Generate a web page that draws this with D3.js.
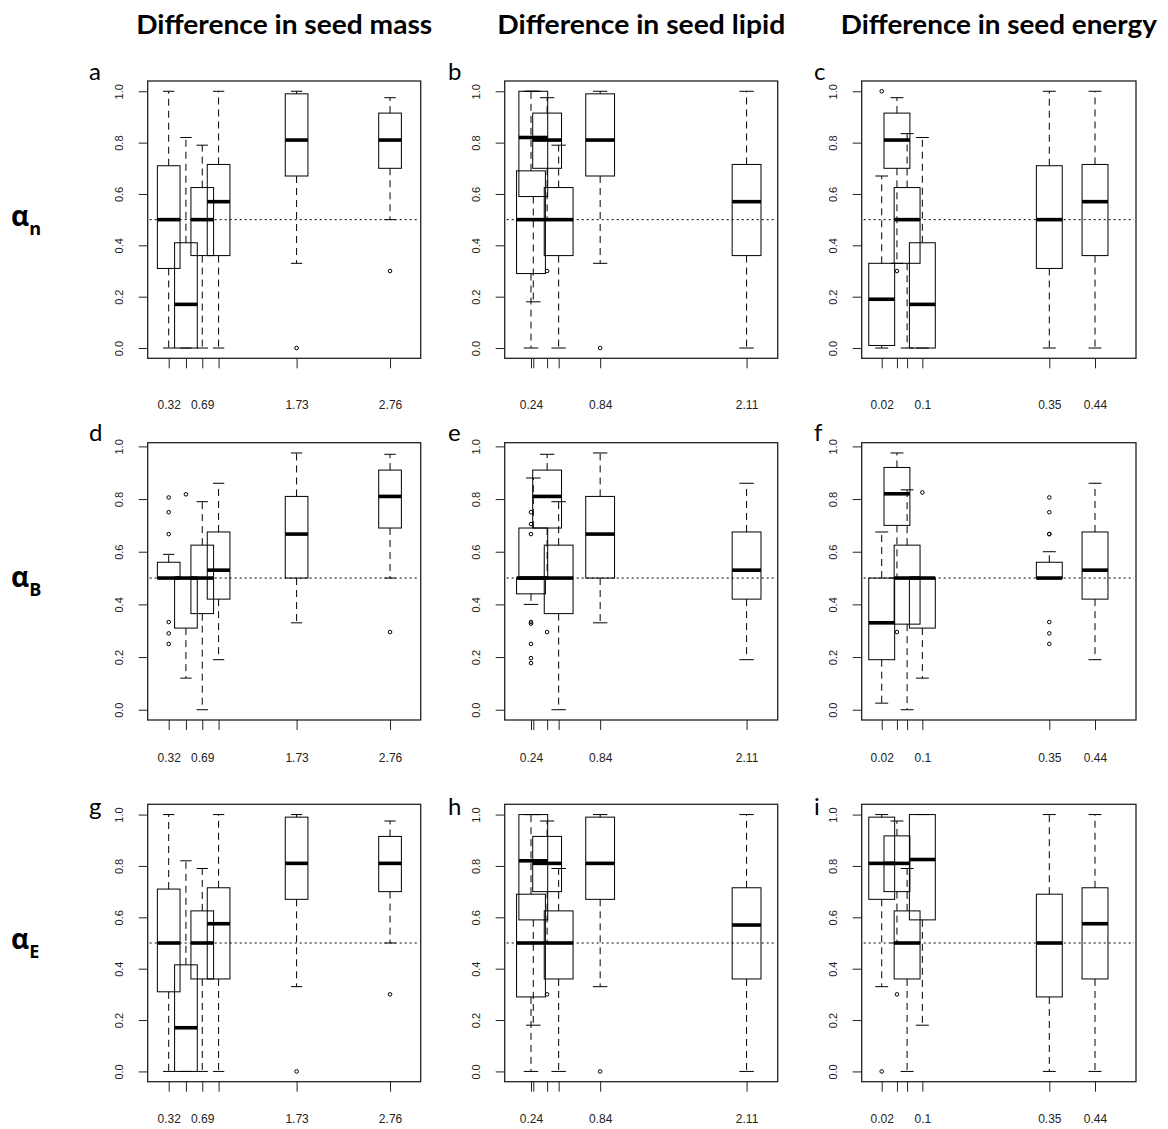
<!DOCTYPE html>
<html><head><meta charset="utf-8">
<script src="https://cdn.jsdelivr.net/npm/d3@7"></script>
<style>body{margin:0;background:#fff}</style>
</head><body>
<svg id="c" width="1168" height="1129"></svg>
<script>
// ---------- data ----------
const colTitles = ["Difference in seed mass", "Difference in seed lipid", "Difference in seed energy"];
const rowSymbols = ["n", "B", "E"];
const panelLetters = ["a","b","c","d","e","f","g","h","i"];
const yTicks = [0, 0.2, 0.4, 0.6, 0.8, 1.0];
const refLevel = 0.5;

const massPos = [0.32, 0.51, 0.69, 0.87, 1.73, 2.76];
const massTickLabels = ["0.32", "", "0.69", "", "1.73", "2.76"];
const lipidPos = [0.24, 0.26, 0.38, 0.48, 0.84, 2.11];
const lipidTickLabels = ["0.24", "", "", "", "0.84", "2.11"];
const energyPos = [0.02, 0.05, 0.07, 0.10, 0.35, 0.44];
const energyTickLabels = ["0.02", "", "", "0.1", "0.35", "0.44"];

// box stats: [lower whisker, Q1, median, Q3, upper whisker]
const statsA = [[0,0.31,0.5,0.71,1.0],[0,0,0.17,0.41,0.82],[0,0.36,0.5,0.625,0.79],[0,0.36,0.57,0.715,1.0],[0.33,0.67,0.81,0.99,1.0],[0.5,0.7,0.81,0.915,0.975]];
const outA = [[],[],[],[],[0],[0.3]];
const statsB = [[0,0.29,0.5,0.69,1.0],[0.18,0.59,0.82,1.0,1.0],[0.5,0.7,0.81,0.915,0.975],[0,0.36,0.5,0.625,0.79],[0.33,0.67,0.81,0.99,1.0],[0,0.36,0.57,0.715,1.0]];
const outB = [[],[],[0.3],[],[0],[]];
const statsC = [[0,0.01,0.19,0.33,0.67],[0.33,0.7,0.81,0.915,0.975],[0,0.33,0.5,0.625,0.835],[0,0,0.17,0.41,0.82],[0,0.31,0.5,0.71,1.0],[0,0.36,0.57,0.715,1.0]];
const outC = [[1.0],[0.3],[],[],[],[]];
const statsD = [[0.5,0.5,0.5,0.56,0.59],[0.12,0.31,0.5,0.5,0.5],[0,0.365,0.5,0.625,0.79],[0.19,0.42,0.53,0.675,0.86],[0.33,0.5,0.667,0.81,0.975],[0.5,0.69,0.81,0.91,0.97]];
const outD = [[0.806,0.75,0.667,0.333,0.29,0.25],[0.818],[],[],[],[0.295]];
const statsE = [[0.4,0.44,0.5,0.5,0.5],[0.5,0.5,0.5,0.69,0.88],[0.5,0.69,0.81,0.91,0.97],[0,0.365,0.5,0.625,0.79],[0.33,0.5,0.667,0.81,0.975],[0.19,0.42,0.53,0.675,0.86]];
const outE = [[0.75,0.705,0.667,0.333,0.327,0.25,0.196,0.177],[],[0.295],[],[],[]];
const statsF = [[0.025,0.19,0.33,0.5,0.675],[0.5,0.7,0.82,0.92,0.975],[0,0.325,0.5,0.625,0.835],[0.12,0.31,0.5,0.5,0.5],[0.5,0.5,0.5,0.56,0.6],[0.19,0.42,0.53,0.675,0.86]];
const outF = [[],[0.295],[],[0.825],[0.806,0.75,0.667,0.667,0.333,0.29,0.25],[]];
const statsG = [[0,0.31,0.5,0.71,1.0],[0,0,0.17,0.415,0.82],[0,0.36,0.5,0.625,0.79],[0,0.36,0.575,0.715,1.0],[0.33,0.67,0.81,0.99,1.0],[0.5,0.7,0.81,0.915,0.975]];
const outG = [[],[],[],[],[0],[0.3]];
const statsH = [[0,0.29,0.5,0.69,1.0],[0.18,0.59,0.82,1.0,1.0],[0.5,0.7,0.81,0.915,0.975],[0,0.36,0.5,0.625,0.79],[0.33,0.67,0.81,0.99,1.0],[0,0.36,0.57,0.715,1.0]];
const outH = [[],[],[0.3],[],[0],[]];
const statsI = [[0.33,0.67,0.81,0.99,1.0],[0.5,0.7,0.81,0.917,0.975],[0,0.36,0.5,0.625,0.79],[0.18,0.59,0.825,1.0,1.0],[0,0.29,0.5,0.69,1.0],[0,0.36,0.575,0.715,1.0]];
const outI = [[0],[0.3],[],[],[],[]];

// ---------- layout ----------
const colFrameX = [[147.7, 420.7], [504.7, 777.7], [861.7, 1136]];
const rowFrameY = [[81, 358.3], [442.7, 720], [804.3, 1081.7]];
const xDomains = [[0.0885, 3.098], [0.012, 2.38], [-0.0194, 0.5207]];
const yDomains = [[-0.04, 1.04], [-0.039, 1.014], [-0.04, 1.04]];
const boxWidths = [0.25, 0.25, 0.051];
const letterX = [89, 448, 814];
const letterBase = [80, 441, 815];
const xLabelOffset = [51, 41.8, 41.8];
const titleWidths = [296, 288, 316];

const svg = d3.select("#c");
const numFont = "'Liberation Sans', Arial, sans-serif";
const txtFont = "Lato, 'Open Sans', sans-serif";

const colPos = [massPos, lipidPos, energyPos];
const colLabels = [massTickLabels, lipidTickLabels, energyTickLabels];
const allStats = [[statsA, statsB, statsC],[statsD, statsE, statsF],[statsG, statsH, statsI]];
const allOut = [[outA, outB, outC],[outD, outE, outF],[outG, outH, outI]];

// titles
colTitles.forEach((t, c) => {
  svg.append("text")
    .attr("x", (colFrameX[c][0] + colFrameX[c][1]) / 2)
    .attr("y", 34)
    .attr("text-anchor", "middle")
    .attr("font-family", txtFont)
    .attr("font-weight", "bold")
    .attr("font-size", 27)
    .attr("textLength", titleWidths[c])
    .attr("lengthAdjust", "spacingAndGlyphs")
    .text(t);
});

// row labels
rowSymbols.forEach((s, r) => {
  const cy = (rowFrameY[r][0] + rowFrameY[r][1]) / 2;
  const t = svg.append("text")
    .attr("x", 11).attr("y", cy + 6)
    .attr("font-family", "'Open Sans', 'DejaVu Sans', sans-serif")
    .attr("font-weight", "bold")
    .attr("font-size", 28);
  t.append("tspan").text("\u03B1");
  t.append("tspan").attr("dy", 9).attr("font-size", 18).text(s);
});

function drawPanel(r, c) {
  const stats = allStats[r][c], outs = allOut[r][c];
  const pos = colPos[c], labels = colLabels[c];
  const x = d3.scaleLinear().domain(xDomains[c]).range(colFrameX[c]);
  const y = d3.scaleLinear().domain(yDomains[r]).range([rowFrameY[r][1], rowFrameY[r][0]]);
  const g = svg.append("g");

  // panel letter
  svg.append("text")
    .attr("x", letterX[c]).attr("y", letterBase[r])
    .attr("font-family", txtFont).attr("font-size", 24)
    .text(panelLetters[r * 3 + c]);

  // reference dotted line
  g.append("line")
    .attr("x1", colFrameX[c][0] + 2).attr("x2", colFrameX[c][1] - 2)
    .attr("y1", y(refLevel)).attr("y2", y(refLevel))
    .attr("stroke", "#000").attr("stroke-width", 1)
    .attr("stroke-dasharray", "2,3");

  // boxes
  stats.forEach((s, i) => {
    const [lo, q1, med, q3, hi] = s;
    const cx = x(pos[i]);
    const hw = (x(pos[i] + boxWidths[c] / 2) - x(pos[i] - boxWidths[c] / 2)) / 2;
    const bg = g.append("g");
    // whiskers
    [[q3, hi], [q1, lo]].forEach(([a, b]) => {
      if (a !== b) {
        bg.append("line").attr("x1", cx).attr("x2", cx)
          .attr("y1", y(a)).attr("y2", y(b))
          .attr("stroke", "#000").attr("stroke-width", 1)
          .attr("stroke-dasharray", "7,5");
      }
      bg.append("line").attr("x1", cx - hw / 2).attr("x2", cx + hw / 2)
        .attr("y1", y(b)).attr("y2", y(b))
        .attr("stroke", "#000").attr("stroke-width", 1);
    });
    // box
    bg.append("rect")
      .attr("x", cx - hw).attr("width", 2 * hw)
      .attr("y", y(q3)).attr("height", Math.max(0.01, y(q1) - y(q3)))
      .attr("fill", "none").attr("stroke", "#000").attr("stroke-width", 1);
    // median
    bg.append("line").attr("x1", cx - hw).attr("x2", cx + hw)
      .attr("y1", y(med)).attr("y2", y(med))
      .attr("stroke", "#000").attr("stroke-width", 3.6);
    // outliers
    bg.selectAll("circle").data(outs[i]).enter().append("circle")
      .attr("cx", cx).attr("cy", d => y(d)).attr("r", 1.8)
      .attr("fill", "none").attr("stroke", "#000").attr("stroke-width", 1);
  });

  // frame
  g.append("rect")
    .attr("x", colFrameX[c][0]).attr("y", rowFrameY[r][0])
    .attr("width", colFrameX[c][1] - colFrameX[c][0])
    .attr("height", rowFrameY[r][1] - rowFrameY[r][0])
    .attr("fill", "none").attr("stroke", "#222").attr("stroke-width", 1.3);

  // y axis
  const ya = g.append("g").attr("transform", `translate(${colFrameX[c][0]},0)`)
    .call(d3.axisLeft(y).tickValues(yTicks).tickSize(9).tickFormat(d3.format(".1f")));
  ya.select(".domain").remove();
  ya.selectAll("line").attr("stroke", "#222");
  ya.selectAll("text")
    .attr("x", 0).attr("dy", 0).attr("y", 0)
    .attr("text-anchor", "middle")
    .attr("transform", "translate(-24.5,0) rotate(-90)")
    .attr("font-family", numFont).attr("font-size", 11).attr("fill", "#222");

  // x axis
  const xa = g.append("g").attr("transform", `translate(0,${rowFrameY[r][1]})`)
    .call(d3.axisBottom(x).tickValues(pos).tickSize(10).tickFormat((d, i) => labels[i]));
  xa.select(".domain").remove();
  xa.selectAll("line").attr("stroke", "#222");
  xa.selectAll("text")
    .attr("y", xLabelOffset[r]).attr("dy", 0)
    .attr("font-family", numFont).attr("font-size", 12).attr("fill", "#222");
}

for (let r = 0; r < 3; r++) for (let c = 0; c < 3; c++) drawPanel(r, c);
</script>
</body></html>
